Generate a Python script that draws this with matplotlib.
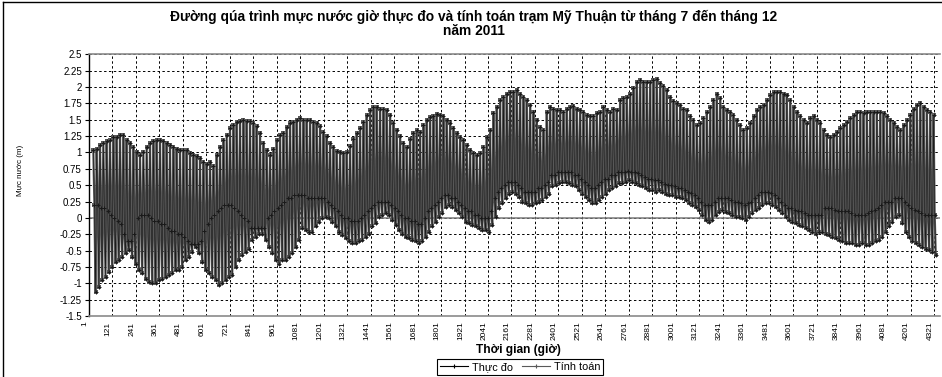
import numpy as np
import matplotlib
matplotlib.use("Agg")
import matplotlib.pyplot as plt
from matplotlib.lines import Line2D
from matplotlib.transforms import ScaledTranslation

plt.rcParams['font.family'] = ['Liberation Sans', 'DejaVu Sans']
plt.rcParams['axes.unicode_minus'] = False

# ---------------- data ----------------
title_line1 = "Đường qúa trình mực nước giờ thực đo và tính toán trạm Mỹ Thuận từ tháng 7 đến tháng 12"
title_line2 = "năm 2011"
y_label = "Mực nước (m)"
x_label = "Thời gian (giờ)"
series_names = ["Thực đo", "Tính toán"]

x_tick_hours = list(range(1, 4322, 120))
y_ticks = [2.5, 2.25, 2.0, 1.75, 1.5, 1.25, 1.0, 0.75, 0.5, 0.25, 0.0,
           -0.25, -0.5, -0.75, -1.0, -1.25, -1.5]

# readings taken every ~17 h along the record
first_sample_hour = 24
sample_step_hours = 17.04

# upper envelope (high water)
high_level = [
    1.04, 1.06, 1.11, 1.14, 1.17, 1.19, 1.24, 1.24, 1.27, 1.27,
    1.19, 1.14, 1.09, 1.01, 0.96, 1.01, 1.09, 1.14, 1.17, 1.19,
    1.19, 1.17, 1.14, 1.11, 1.09, 1.06, 1.04, 1.04, 1.04, 0.99,
    0.96, 0.94, 0.91, 0.86, 0.83, 0.86, 0.80, 0.96, 1.09, 1.19,
    1.27, 1.37, 1.42, 1.47, 1.48, 1.49, 1.48, 1.48, 1.45, 1.40,
    1.30, 1.14, 1.04, 0.96, 1.06, 1.19, 1.27, 1.29, 1.39, 1.45,
    1.47, 1.50,
    1.52, 1.50, 1.50, 1.50, 1.47, 1.45, 1.40, 1.32, 1.25, 1.15,
    1.08, 1.02, 1.00, 0.99, 1.00, 1.10, 1.20, 1.29, 1.37, 1.47,
    1.57, 1.65, 1.70, 1.70, 1.67, 1.67, 1.65, 1.57, 1.45, 1.35,
    1.25, 1.15, 1.08, 1.20, 1.30, 1.34, 1.32, 1.42, 1.50, 1.54,
    1.56, 1.59, 1.57, 1.55, 1.50, 1.45, 1.37, 1.29, 1.24, 1.19,
    1.11, 1.04, 0.99, 0.96, 0.99, 1.09, 1.24, 1.34, 1.60, 1.70,
    1.80, 1.85, 1.90, 1.93, 1.93, 1.95, 1.90, 1.85, 1.80, 1.73,
    1.62, 1.50, 1.39, 1.34, 1.62, 1.70, 1.67, 1.65, 1.65, 1.62,
    1.67, 1.70, 1.71, 1.67, 1.65, 1.62, 1.57, 1.55, 1.55, 1.60,
    1.62, 1.70, 1.65, 1.62, 1.67, 1.65,
    1.80, 1.83, 1.85, 1.90, 1.98, 2.08, 2.11, 2.08, 2.08, 2.08,
    2.11, 2.13, 2.06, 2.01, 1.95, 1.85, 1.78, 1.75, 1.73, 1.67,
    1.65, 1.55, 1.50, 1.42, 1.45, 1.52, 1.62, 1.70, 1.80, 1.90,
    1.83, 1.70, 1.65, 1.62, 1.57, 1.50, 1.42, 1.34, 1.37, 1.45,
    1.55, 1.65, 1.70, 1.73, 1.80, 1.88, 1.92, 1.93, 1.93, 1.90,
    1.88, 1.80, 1.70, 1.62, 1.55, 1.50, 1.45, 1.52, 1.55, 1.50,
    1.45, 1.34, 1.27, 1.24, 1.27, 1.32, 1.37, 1.42, 1.47, 1.52,
    1.57, 1.62, 1.62, 1.60, 1.62, 1.62, 1.62, 1.62, 1.62, 1.60,
    1.55, 1.50, 1.45, 1.39, 1.34, 1.42, 1.50, 1.57, 1.67, 1.73,
    1.75, 1.70, 1.65, 1.62, 1.57,
]

# lower edge of the dense inner band (higher low water)
mid_low_level = [
    0.20, 0.20, 0.15, 0.15, 0.10, 0.05, 0.00, -0.05, -0.10, -0.25,
    -0.35, -0.35, -0.25, 0.00, 0.05, 0.05, 0.05, 0.00, -0.05, -0.05,
    -0.10, -0.10, -0.15, -0.20, -0.20, -0.25, -0.25, -0.30, -0.35, -0.40,
    -0.40, -0.40, -0.35, -0.20, -0.10, 0.00, 0.05, 0.10, 0.15, 0.20,
    0.20, 0.20, 0.15, 0.10, 0.05, 0.00, -0.05, -0.15, -0.15, -0.15,
    -0.15, -0.15, 0.00, 0.05, 0.10, 0.15, 0.20, 0.25, 0.30, 0.30,
    0.35, 0.35,
    0.35, 0.35, 0.30, 0.30, 0.30, 0.30, 0.30, 0.30, 0.25, 0.20,
    0.15, 0.10, 0.05, 0.00, 0.00, -0.05, -0.05, -0.05, 0.00, 0.05,
    0.10, 0.15, 0.20, 0.25, 0.25, 0.25, 0.25, 0.20, 0.15, 0.10,
    0.05, 0.00, 0.00, -0.05, -0.05, -0.10, -0.10, 0.00, 0.10, 0.15,
    0.20, 0.25, 0.30, 0.35, 0.35, 0.30, 0.30, 0.25, 0.20, 0.15,
    0.10, 0.10, 0.05, 0.05, 0.00, 0.00, 0.00, 0.10, 0.30, 0.40,
    0.45, 0.50, 0.55, 0.55, 0.55, 0.50, 0.45, 0.40, 0.40, 0.40,
    0.40, 0.45, 0.45, 0.50, 0.55, 0.65, 0.65, 0.70, 0.70, 0.70,
    0.70, 0.70, 0.65, 0.65, 0.60, 0.55, 0.50, 0.45, 0.45, 0.50,
    0.55, 0.60, 0.60, 0.65, 0.65, 0.70,
    0.70, 0.70, 0.72, 0.70, 0.70, 0.68, 0.65, 0.62, 0.60, 0.60,
    0.58, 0.58, 0.55, 0.52, 0.50, 0.50, 0.48, 0.45, 0.45, 0.42,
    0.40, 0.38, 0.35, 0.30, 0.25, 0.20, 0.20, 0.20, 0.25, 0.30,
    0.30, 0.30, 0.30, 0.28, 0.25, 0.25, 0.22, 0.20, 0.22, 0.25,
    0.30, 0.35, 0.40, 0.40, 0.40, 0.38, 0.35, 0.30, 0.25, 0.20,
    0.15, 0.15, 0.12, 0.10, 0.10, 0.08, 0.05, 0.05, 0.05, 0.05,
    0.05, 0.15, 0.15, 0.15, 0.12, 0.10, 0.10, 0.10, 0.10, 0.08,
    0.05, 0.05, 0.05, 0.05, 0.08, 0.10, 0.12, 0.15, 0.20, 0.25,
    0.25, 0.25, 0.30, 0.30, 0.30, 0.25, 0.20, 0.15, 0.12, 0.10,
    0.08, 0.05, 0.05, 0.05, 0.05,
]

# lower envelope (lowest low water)
low_level = [
    -1.13, -1.05, -0.95, -0.90, -0.82, -0.75, -0.67, -0.65, -0.60, -0.54,
    -0.49, -0.60, -0.70, -0.80, -0.85, -0.93, -0.98, -1.00, -1.00, -0.95,
    -0.93, -0.90, -0.87, -0.85, -0.80, -0.80, -0.75, -0.65, -0.60, -0.52,
    -0.44, -0.54, -0.67, -0.80, -0.85, -0.90, -0.95, -1.03, -1.00, -0.95,
    -0.90, -0.87, -0.75, -0.65, -0.57, -0.52, -0.47, -0.34, -0.29, -0.24,
    -0.24, -0.34, -0.44, -0.54, -0.65, -0.70, -0.65, -0.65, -0.60, -0.54,
    -0.44, -0.34,
    -0.15, -0.19, -0.21, -0.21, -0.13, -0.06, 0.00, 0.02, 0.00, -0.06,
    -0.13, -0.21, -0.26, -0.31, -0.36, -0.38, -0.38, -0.36, -0.34, -0.29,
    -0.24, -0.13, -0.08, 0.02, 0.04, 0.07, 0.04, -0.03, -0.11, -0.19,
    -0.24, -0.29, -0.31, -0.34, -0.36, -0.39, -0.36, -0.29, -0.21, -0.13,
    -0.06, 0.02, 0.07, 0.17, 0.20, 0.17, 0.12, 0.07, 0.02, -0.06,
    -0.08, -0.11, -0.13, -0.16, -0.19, -0.19, -0.21, -0.11, 0.02, 0.15,
    0.22, 0.30, 0.37, 0.40, 0.37, 0.32, 0.25, 0.22, 0.20, 0.20,
    0.22, 0.25, 0.27, 0.32, 0.37, 0.48, 0.50, 0.53, 0.55, 0.55,
    0.53, 0.50, 0.48, 0.43, 0.37, 0.32, 0.27, 0.22, 0.22, 0.27,
    0.32, 0.37, 0.43, 0.45, 0.48, 0.53,
    0.53, 0.55, 0.58, 0.55, 0.53, 0.50, 0.48, 0.45, 0.43, 0.43,
    0.40, 0.43, 0.40, 0.37, 0.35, 0.35, 0.32, 0.32, 0.30, 0.27,
    0.22, 0.20, 0.17, 0.12, 0.04, -0.03, -0.06, -0.03, 0.04, 0.09,
    0.12, 0.09, 0.07, 0.04, 0.02, 0.02, 0.00, -0.03, 0.02, 0.07,
    0.12, 0.15, 0.20, 0.22, 0.22, 0.20, 0.17, 0.12, 0.07, 0.02,
    -0.03, -0.06, -0.08, -0.11, -0.13, -0.16, -0.19, -0.21, -0.24, -0.21,
    -0.21, -0.24, -0.26, -0.29, -0.31, -0.34, -0.36, -0.39, -0.39, -0.39,
    -0.41, -0.41, -0.39, -0.41, -0.41, -0.39, -0.36, -0.34, -0.29, -0.21,
    -0.13, -0.06, 0.02, 0.04, -0.08, -0.21, -0.29, -0.36, -0.39, -0.41,
    -0.44, -0.47, -0.49, -0.52, -0.57,
]

# ---------------- build series ----------------
n = min(len(high_level), len(mid_low_level), len(low_level))
t0 = first_sample_hour + sample_step_hours * np.arange(n)
hours = np.column_stack([t0, t0 + sample_step_hours / 3.0,
                         t0 + 2.0 * sample_step_hours / 3.0]).ravel()
levels = np.column_stack([np.array(high_level[:n]),
                          np.array(mid_low_level[:n]),
                          np.array(low_level[:n])]).ravel()
measured = levels
computed = levels

# ---------------- figure ----------------
W, H = 942, 377
fig = plt.figure(figsize=(W / 100, H / 100), dpi=100)
ax_left, ax_right, ax_top, ax_bottom = 88.8, 940.0, 54.3, 316.0
ax = fig.add_axes([ax_left / W, 1 - ax_bottom / H,
                   (ax_right - ax_left) / W, (ax_bottom - ax_top) / H])

grey = '#595959'
ax.plot(hours, computed, color=grey, lw=1.6, marker='s', ms=2.6,
        mec=grey, mfc=grey, mew=0, zorder=3, label=series_names[1])
ax.plot(hours, measured, color='#1a1a1a', lw=0.45, marker='+', ms=2.3,
        mew=0.7, zorder=4, label=series_names[0])

ax.axhline(0, color='#7a7a7a', lw=1.1, zorder=2)

ax.set_xlim(1, 4351)
ax.set_ylim(-1.5, 2.5)
ax.set_yticks(y_ticks)
ax.set_yticklabels([f"{v:g}" for v in y_ticks])
ax.set_xticks(x_tick_hours)
ax.set_xticklabels([str(h) for h in x_tick_hours], rotation=90)

ax.grid(True, color='black', lw=0.7, ls=(0, (2.5, 2.5)), zorder=1)
ax.set_axisbelow(True)

ax.tick_params(axis='y', length=3, width=0.8, direction='out', pad=2,
               labelsize=7.0)
ax.tick_params(axis='x', length=0, pad=4, labelsize=6.0)
shift = ScaledTranslation(-4 / 100, 0, fig.dpi_scale_trans)
for lab in ax.get_xticklabels():
    lab.set_transform(lab.get_transform() + shift)

ax.spines['left'].set_color('black')
ax.spines['left'].set_linewidth(1.0)
for s in ('top', 'bottom'):
    ax.spines[s].set_color('#8a8a8a')
    ax.spines[s].set_linewidth(1.2)
    ax.spines[s].set_linestyle((0, (1, 1)))
ax.spines['right'].set_visible(False)

# titles and labels
fig.text(474 / W, 1 - 17 / H, title_line1, ha='center', va='center',
         fontsize=9.9, fontweight='bold')
fig.text(474 / W, 1 - 31 / H, title_line2, ha='center', va='center',
         fontsize=9.9, fontweight='bold')
fig.text(20 / W, 1 - 170 / H, y_label, rotation=90, ha='center',
         va='center', fontsize=5.8)
fig.text(518 / W, 1 - 350 / H, x_label, ha='center', va='center',
         fontsize=8.6, fontweight='bold')

handles = [Line2D([], [], color='black', lw=0.8, marker='+', ms=3.5, mew=0.8),
           Line2D([], [], color=grey, lw=0.8, marker='+', ms=3.5, mew=0.8)]
leg = fig.legend(handles, series_names, loc='center',
                 bbox_to_anchor=(520 / W, 1 - 367 / H), ncol=2,
                 fontsize=7.8, frameon=True, fancybox=False,
                 edgecolor='black', framealpha=1, handlelength=2.6,
                 handletextpad=0.35, columnspacing=0.8, borderpad=0.25,
                 borderaxespad=0)
leg.get_frame().set_linewidth(0.8)

# chart-area border (left and top edges)
fig.add_artist(Line2D([3 / W, 3 / W], [0, 1 - 2 / H], color='black',
                      lw=1.0, transform=fig.transFigure))
fig.add_artist(Line2D([3 / W, 1], [1 - 2 / H, 1 - 2 / H], color='black',
                      lw=1.0, transform=fig.transFigure))

fig.savefig("out.png", dpi=100)
